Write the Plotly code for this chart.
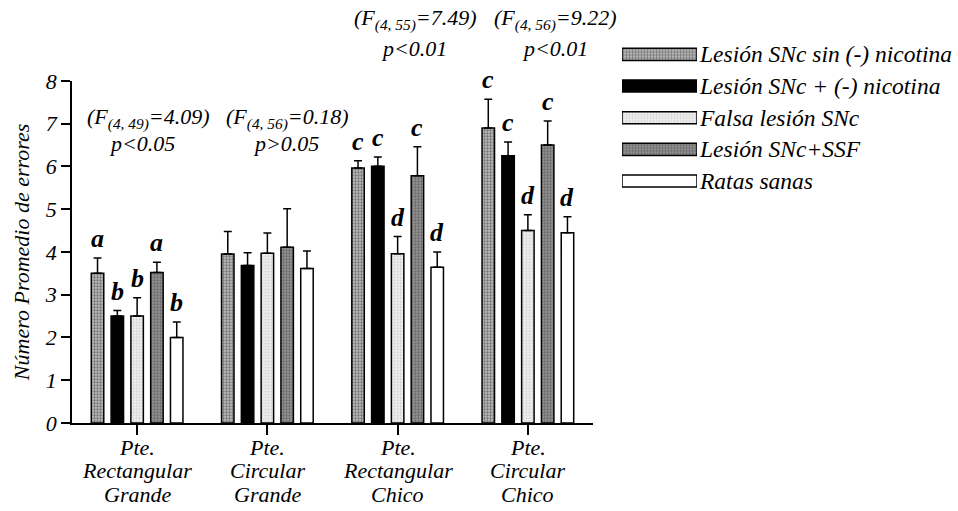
import plotly.graph_objects as go

# ---------------- data ----------------
categories = ["Pte.<br>Rectangular<br>Grande", "Pte.<br>Circular<br>Grande",
              "Pte.<br>Rectangular<br>Chico", "Pte.<br>Circular<br>Chico"]
series_names = ["Lesión SNc sin (-) nicotina", "Lesión SNc + (-) nicotina",
                "Falsa lesión SNc", "Lesión SNc+SSF", "Ratas sanas"]

mean_lesion_sin = [3.50, 3.95, 5.96, 6.90]
mean_lesion_nic = [2.50, 3.68, 6.00, 6.25]
mean_falsa = [2.50, 3.97, 3.96, 4.50]
mean_ssf = [3.52, 4.11, 5.78, 6.50]
mean_sanas = [2.00, 3.61, 3.64, 4.45]

sem_lesion_sin = [0.36, 0.53, 0.17, 0.67]
sem_lesion_nic = [0.13, 0.30, 0.22, 0.32]
sem_falsa = [0.43, 0.47, 0.40, 0.37]
sem_ssf = [0.24, 0.90, 0.68, 0.56]
sem_sanas = [0.36, 0.41, 0.36, 0.37]

letters_lesion_sin = ["a", "", "c", "c"]
letters_lesion_nic = ["b", "", "c", "c"]
letters_falsa = ["b", "", "d", "d"]
letters_ssf = ["a", "", "c", "c"]
letters_sanas = ["b", "", "d", "d"]

f_stats = ["(F<sub>(4, 49)</sub>=4.09)", "(F<sub>(4, 56)</sub>=0.18)",
           "(F<sub>(4, 55)</sub>=7.49)", "(F<sub>(4, 56)</sub>=9.22)"]
p_stats = ["p&lt;0.05", "p&gt;0.05", "p&lt;0.01", "p&lt;0.01"]

yticks = [0, 1, 2, 3, 4, 5, 6, 7, 8]

means = [mean_lesion_sin, mean_lesion_nic, mean_falsa, mean_ssf, mean_sanas]
sems = [sem_lesion_sin, sem_lesion_nic, sem_falsa, sem_ssf, sem_sanas]
letters = [letters_lesion_sin, letters_lesion_nic, letters_falsa, letters_ssf, letters_sanas]

# ---------------- styles ----------------
FONT = "Liberation Serif, Times New Roman, serif"
W, H = 958, 511
ML, MR, MT, MB = 72, 0, 5, 88
PW, PH = W - ML - MR, H - MT - MB
BARGAP, BARGROUPGAP = 0.24, 0.37

markers = [
    dict(color="white", line=dict(color="black", width=1.5),
         pattern=dict(shape=".", fgcolor="#1a1a1a", bgcolor="#c8c8c8", size=3, solidity=0.5)),
    dict(color="black", line=dict(color="black", width=1.5)),
    dict(color="white", line=dict(color="black", width=1.5),
         pattern=dict(shape=".", fgcolor="#b0b0b0", bgcolor="#f0f0f0", size=3, solidity=0.4)),
    dict(color="white", line=dict(color="black", width=1.5),
         pattern=dict(shape=".", fgcolor="#3a3a3a", bgcolor="#999999", size=3, solidity=0.5)),
    dict(color="white", line=dict(color="black", width=1.5)),
]

fig = go.Figure()
xs = list(range(len(categories)))
for j, name in enumerate(series_names):
    fig.add_trace(go.Bar(
        x=xs, y=means[j], name=name, showlegend=False,
        marker=markers[j],
        error_y=dict(type="data", symmetric=False, array=sems[j],
                     arrayminus=[0] * len(xs), color="black", thickness=1.5, width=4),
        xaxis="x", yaxis="y",
    ))

# legend swatches on a hidden helper axis
for j, name in enumerate(series_names):
    fig.add_trace(go.Bar(
        x=[1], y=[j], orientation="h", width=0.38, showlegend=False,
        marker=markers[j], xaxis="x2", yaxis="y2", hoverinfo="skip",
    ))

annotations = []
# significance letters
n = len(series_names)
slot = (1 - BARGAP) / n
for j in range(n):
    for i in xs:
        if letters[j][i]:
            annotations.append(dict(
                x=i + (j - (n - 1) / 2) * slot, y=means[j][i] + sems[j][i],
                xref="x", yref="y", text=letters[j][i], showarrow=False,
                yanchor="bottom", yshift=3,
                font=dict(family=FONT, size=26, color="black", style="italic", weight="bold"),
            ))

# category labels (one line per annotation for tight line spacing)
for i in xs:
    for k, line in enumerate(categories[i].split("<br>")):
        annotations.append(dict(x=i, y=0, xref="x", yref="paper", text=line, showarrow=False,
                                xanchor="center", yanchor="middle", yshift=-(24 + 23.5 * k),
                                font=dict(family=FONT, size=22, color="black", style="italic")))

# statistics text placed in paper coordinates (pixel positions)
def px_to_paper_x(px):
    return (px - ML) / PW

def py_to_paper_y(py):
    return (H - MB - py) / PH

stat_pos_f = [(148, 113), (287, 113), (415, 13), (555, 13)]
stat_pos_p = [(142, 139), (286, 139), (414, 42), (555, 42)]
for i in xs:
    annotations.append(dict(x=px_to_paper_x(stat_pos_f[i][0]), y=py_to_paper_y(stat_pos_f[i][1]),
                            xref="paper", yref="paper", text=f_stats[i], showarrow=False,
                            xanchor="center", yanchor="middle",
                            font=dict(family=FONT, size=22, color="black", style="italic")))
    annotations.append(dict(x=px_to_paper_x(stat_pos_p[i][0]), y=py_to_paper_y(stat_pos_p[i][1]),
                            xref="paper", yref="paper", text=p_stats[i], showarrow=False,
                            xanchor="center", yanchor="middle",
                            font=dict(family=FONT, size=22, color="black", style="italic")))

# legend labels
for j, name in enumerate(series_names):
    annotations.append(dict(x=1, y=j, xref="x2", yref="y2", text=name, showarrow=False,
                            xanchor="left", xshift=0,
                            font=dict(family=FONT, size=23.5, color="black", style="italic")))

main_x_dom = [0, 521 / PW]
main_y_dom = [0, 348 / PH]
leg_x_dom = [(622 - ML) / PW, (697 - ML) / PW]
leg_y_dom = [(423 - 193) / PH, (423 - 32) / PH]

fig.update_layout(
    width=W, height=H, margin=dict(l=ML, r=MR, t=MT, b=MB),
    paper_bgcolor="white", plot_bgcolor="white",
    barmode="group", bargap=BARGAP, bargroupgap=BARGROUPGAP,
    font=dict(family=FONT, color="black"),
    xaxis=dict(domain=main_x_dom, range=[-0.5, 3.5], tickvals=xs, ticktext=[""] * len(xs),
               showline=True, linecolor="black", linewidth=1.5, ticks="outside",
               ticklen=10, tickwidth=1.5, tickcolor="black", showgrid=False, zeroline=False,
               anchor="y"),
    yaxis=dict(domain=main_y_dom, range=[0, 8], tickvals=yticks,
               showline=True, linecolor="black", linewidth=1.5, ticks="outside",
               ticklen=9, tickwidth=1.5, tickcolor="black", showgrid=False, zeroline=False,
               tickfont=dict(family=FONT, size=22, style="italic"), anchor="x",
               title=dict(text="Número Promedio de errores", standoff=9,
                          font=dict(family=FONT, size=22, style="italic"))),
    xaxis2=dict(domain=leg_x_dom, range=[0, 1], visible=False, anchor="y2", fixedrange=True),
    yaxis2=dict(domain=leg_y_dom, range=[len(series_names) - 0.5, -0.5], visible=False,
                anchor="x2", fixedrange=True),
    annotations=annotations,
)

fig.write_html("out.html")
